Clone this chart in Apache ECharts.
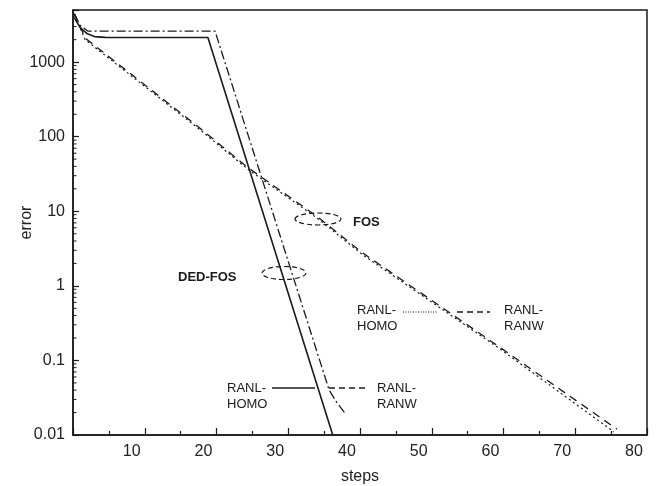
<!DOCTYPE html>
<html lang="en">

<head>
    <meta charset="UTF-8">
    <title>error vs steps</title>
    <script src="https://cdn.jsdelivr.net/npm/echarts@6/dist/echarts.min.js"></script>
    <style>
        html, body { margin: 0; padding: 0; background: #fff; }
        #chart { width: 656px; height: 486px; }
    </style>
</head>

<body>
    <div id="chart"></div>

    <script>
        // tick labels
        const xLabels = [10, 20, 30, 40, 50, 60, 70, 80];
        const yLabels = [0.01, 0.1, 1, 10, 100, 1000];

        // DED-FOS curves  [step, error]
        const dedfosHomo = [[0.2, 3900], [1, 2900], [2, 2400], [3, 2200], [4.5, 2150], [18.8, 2140], [36.2, 0.01]];
        const dedfosRanw = [[0.2, 4400], [1, 3100], [2.1, 2600], [19.8, 2600], [35.7, 0.04], [36.8, 0.027], [37.9, 0.0197]];

        // FOS curves
        const fosRanw = [[0.2, 4500], [1.7, 2100], [17.7, 130], [24.3, 39], [34.1, 8.4], [40.4, 2.75], [59.5, 0.15], [75.8, 0.012]];
        const fosHomo = [[0.2, 4300], [1.7, 2000], [17.7, 124], [24.3, 37], [34.1, 8.0], [40.4, 2.6], [59.5, 0.143], [75.4, 0.011]];

        // log minor ticks 2..9 per decade
        const yMinor = [];
        for (let e = -2; e <= 3; e++) {
            for (let m = 2; m <= 9; m++) {
                const v = m * Math.pow(10, e);
                if (v < 5000) yMinor.push(v);
            }
        }

        const ink = '#1a1a1a';
        const font = 'Liberation Sans, Arial, sans-serif';

        function legendText(x, y, lines) {
            return lines.map((t, i) => ({
                type: 'text', x: x, y: y + i * 16,
                style: { text: t, font: '13px ' + font, fill: ink, textVerticalAlign: 'middle' }
            }));
        }

        function seg(x1, x2, y, dash, w) {
            return {
                type: 'line', shape: { x1: x1, y1: y, x2: x2, y2: y },
                style: { stroke: ink, lineWidth: w || 1, lineDash: dash }
            };
        }

        function ellipse(cx, cy, rx, ry) {
            return {
                type: 'ellipse', shape: { cx: cx, cy: cy, rx: rx, ry: ry },
                style: { fill: 'none', stroke: ink, lineWidth: 1.2, lineDash: [5, 3] }
            };
        }

        const chart = echarts.init(document.getElementById('chart'));
        chart.setOption({
            animation: false,
            grid: {
                left: 73, right: 9, top: 10, bottom: 51, outerBoundsMode: 'none',
                show: true, borderColor: ink, borderWidth: 1.5
            },
            xAxis: {
                type: 'value', min: 0, max: 80, interval: 10,
                name: 'steps', nameLocation: 'middle', nameGap: 34,
                nameTextStyle: { fontSize: 16, fontFamily: font, color: '#222' },
                axisLine: { lineStyle: { color: ink, width: 1.5 } },
                axisTick: { inside: true, length: 7, lineStyle: { color: ink, width: 1.2 } },
                minorTick: { show: true, splitNumber: 2, length: 4, lineStyle: { color: ink, width: 1.2 } },
                splitLine: { show: false },
                axisLabel: {
                    fontSize: 16, fontFamily: font, color: '#222', margin: 9,
                    padding: [0, 26, 0, 0],
                    formatter: v => xLabels.includes(v) ? String(v) : ''
                }
            },
            yAxis: {
                type: 'log', logBase: 10, min: 0.01, max: 5000,
                name: 'error', nameLocation: 'middle', nameGap: 38, nameMoveOverlap: false,
                nameTextStyle: { fontSize: 16, fontFamily: font, color: '#222' },
                axisLine: { lineStyle: { color: ink, width: 1.5 } },
                axisTick: { inside: true, length: 6, lineStyle: { color: ink, width: 1.2 } },
                splitLine: { show: false },
                axisLabel: {
                    fontSize: 16, fontFamily: font, color: '#222', margin: 8,
                    formatter: v => {
                        const l = yLabels.find(t => Math.abs(Math.log10(t) - Math.log10(v)) < 1e-6);
                        return l === undefined ? '' : String(l);
                    }
                }
            },
            series: [
                {
                    name: 'DED-FOS RANL-HOMO', type: 'line', data: dedfosHomo, symbol: 'none',
                    lineStyle: { color: ink, width: 1.6, type: 'solid' }
                },
                {
                    name: 'DED-FOS RANL-RANW', type: 'line', data: dedfosRanw, symbol: 'none',
                    lineStyle: { color: ink, width: 1.3, type: [9, 3, 2, 3] }
                },
                {
                    name: 'FOS RANL-RANW', type: 'line', data: fosRanw, symbol: 'none',
                    lineStyle: { color: ink, width: 1.3, type: [8, 6] }
                },
                {
                    name: 'FOS RANL-HOMO', type: 'line', data: fosHomo, symbol: 'none',
                    lineStyle: { color: ink, width: 1.2, type: [2, 3] }
                },
                {
                    // y minor ticks
                    type: 'custom', silent: true, clip: false,
                    data: yMinor.map(v => [0, v]),
                    renderItem: (params, api) => {
                        const p = api.coord([0, api.value(1)]);
                        return {
                            type: 'line', shape: { x1: p[0], y1: p[1], x2: p[0] + 3.5, y2: p[1] },
                            style: { stroke: ink, lineWidth: 1 }
                        };
                    }
                }
            ],
            graphic: [
                ellipse(318, 219, 23, 6),
                ellipse(284, 273, 22, 6.5),
                { type: 'text', x: 353, y: 222, style: { text: 'FOS', font: 'bold 13px ' + font, fill: ink, textVerticalAlign: 'middle' } },
                { type: 'text', x: 178, y: 277, style: { text: 'DED-FOS', font: 'bold 13px ' + font, fill: ink, textVerticalAlign: 'middle' } },
                // FOS legend
                ...legendText(357, 310, ['RANL-', 'HOMO']),
                seg(403, 437, 312, [1, 1.5], 1),
                seg(457, 490, 312, [6, 4], 1.3),
                ...legendText(504, 310, ['RANL-', 'RANW']),
                // DED-FOS legend
                ...legendText(227, 388, ['RANL-', 'HOMO']),
                seg(272, 315, 388, null, 1.4),
                seg(329, 365, 388, [6, 4], 1.3),
                ...legendText(377, 388, ['RANL-', 'RANW'])
            ]
        });
    </script>
</body>

</html>
